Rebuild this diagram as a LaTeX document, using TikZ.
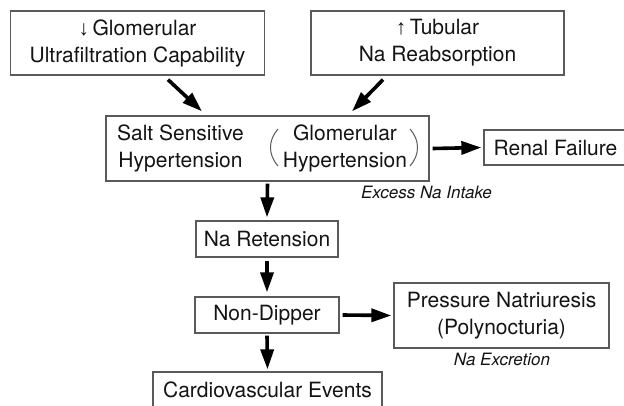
\documentclass[tikz,border=0pt]{standalone}
\usepackage{fontspec}
\setmainfont{TeX Gyre Heros}
\newfontfamily\arrowfont{Liberation Sans}
\usetikzlibrary{arrows.meta}
\definecolor{boxline}{HTML}{5A5A5A}
\definecolor{txt}{HTML}{141414}
\tikzset{
  box/.style={draw=boxline, line width=1.3pt, inner sep=0pt, text=txt, align=center,
    font=\fontsize{21}{27}\selectfont},
  lbl/.style={inner sep=0pt, text=txt, font=\fontsize{21}{27}\selectfont, align=center},
  note/.style={inner sep=0pt, text=txt, font=\fontsize{17}{20}\selectfont\itshape},
  flow/.style={line width=3.6pt, -{Triangle[length=20pt,width=13pt]}},
  paren/.style={draw=boxline, line width=1pt}
}
\begin{document}
\begin{tikzpicture}[x=1pt,y=-1pt]
\clip (0,0) rectangle (624,405);
\fill[white] (0,0) rectangle (624,405);

\node[box, minimum width=253.5pt, minimum height=64pt] (b1) at (137.5,43)
  {{\arrowfont\char"2193}\,Glomerular\\Ultrafiltration Capability};
\node[box, minimum width=253pt, minimum height=64pt] (b2) at (437.5,43)
  {{\arrowfont\char"2191}\,Tubular\\Na Reabsorption};
\node[box, minimum width=323pt, minimum height=65pt] (b3) at (267.5,148.5) {};
\node[lbl] (t3a) at (180.5,148) {Salt Sensitive\\Hypertension};
\node[lbl] (t3b) at (345,148) {Glomerular\\Hypertension};
\draw[paren] (278,129) .. controls (268,140) and (268,155) .. (278,166);
\draw[paren] (410,129) .. controls (420,140) and (420,155) .. (410,166);
\node[box, minimum width=146pt, minimum height=35pt] (rf) at (557,147.5) {\hspace*{-3pt}Renal Failure};
\node[note] (exc) at (426.5,192) {Excess Na Intake};
\node[box, minimum width=142pt, minimum height=36pt] (nr) at (267,239) {Na Retension};
\node[box, minimum width=144pt, minimum height=36pt] (nd) at (267,315) {Non-Dipper};
\node[box, minimum width=215pt, minimum height=65pt] (pn) at (501.5,315.5)
  {Pressure Natriuresis\\(Polynocturia)};
\node[note] (nex) at (502,359) {Na Excretion};
\node[box, minimum width=229pt, minimum height=36pt] (cv) at (267.5,390) {Cardiovascular Events};

\draw[flow] ([xshift=30.5pt,yshift=-4pt]b1.south) -- ([xshift=-65.5pt,yshift=4pt]b3.north);
\draw[flow] ([xshift=-54.5pt,yshift=-4pt]b2.south) -- ([xshift=84.5pt,yshift=4pt]b3.north);
\draw[flow] ([xshift=3pt]b3.east) -- ([xshift=-2pt]rf.west);
\draw[flow] ([yshift=-2pt]b3.south) -- ([yshift=3pt]nr.north);
\draw[flow] ([yshift=-3pt]nr.south) -- ([yshift=4pt]nd.north);
\draw[flow] ([yshift=-2pt]nd.south) -- ([yshift=2pt]cv.north);
\draw[flow] ([xshift=3pt]nd.east) -- ([xshift=-2pt]pn.west);
\end{tikzpicture}
\end{document}
